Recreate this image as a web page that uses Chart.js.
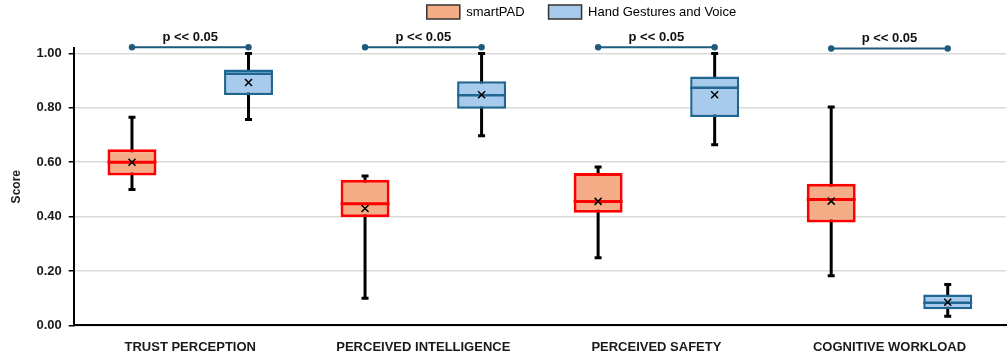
<!DOCTYPE html>
<html>
<head>
<meta charset="utf-8">
<script src="https://cdn.jsdelivr.net/npm/chart.js@4.4.1/dist/chart.umd.min.js"></script>
<style>
  html, body { margin: 0; padding: 0; background: #fff; }
  #wrap { width: 1008px; height: 360px; }
</style>
</head>
<body>
<div id="wrap"><canvas id="boxes"></canvas></div>
<script>
// categories and five-number summaries
const categories = ["TRUST PERCEPTION", "PERCEIVED INTELLIGENCE", "PERCEIVED SAFETY", "COGNITIVE WORKLOAD"];

const padMin    = [0.500, 0.100, 0.249, 0.183];
const padQ1     = [0.551, 0.398, 0.414, 0.378];
const padMedian = [0.600, 0.447, 0.456, 0.463];
const padQ3     = [0.648, 0.536, 0.560, 0.521];
const padMax    = [0.765, 0.549, 0.582, 0.803];
const padMean   = [0.600, 0.430, 0.456, 0.457];

const hgvMin    = [0.757, 0.697, 0.664, 0.034];
const hgvQ1     = [0.847, 0.797, 0.766, 0.059];
const hgvMedian = [0.925, 0.846, 0.874, 0.083];
const hgvQ3     = [0.941, 0.898, 0.915, 0.114];
const hgvMax    = [1.000, 1.000, 1.000, 0.150];
const hgvMean   = [0.893, 0.848, 0.848, 0.085];

const pLabels      = ["p << 0.05", "p << 0.05", "p << 0.05", "p << 0.05"];
const bracketLevel = [1.023, 1.023, 1.023, 1.018];

const stats = [
    { min: padMin, median: padMedian, max: padMax, mean: padMean },
    { min: hgvMin, median: hgvMedian, max: hgvMax, mean: hgvMean }
];

//whiskers go under the boxes, medians and means on top
const whiskers = {
    id: "whiskers",
    beforeDatasetsDraw(chart) {
        const ctx = chart.ctx;
        const y = chart.scales.y;
        ctx.save();
        ctx.strokeStyle = "#000";
        ctx.lineWidth = 3;
        chart.data.datasets.forEach((ds, d) => {
            chart.getDatasetMeta(d).data.forEach((bar, i) => {
                const lo = y.getPixelForValue(stats[d].min[i]);
                const hi = y.getPixelForValue(stats[d].max[i]);
                ctx.beginPath();
                ctx.moveTo(bar.x, lo);
                ctx.lineTo(bar.x, hi);
                ctx.moveTo(bar.x - 3.5, lo);
                ctx.lineTo(bar.x + 3.5, lo);
                ctx.moveTo(bar.x - 3.5, hi);
                ctx.lineTo(bar.x + 3.5, hi);
                ctx.stroke();
            });
        });
        ctx.restore();
    },
    afterDatasetsDraw(chart) {
        const ctx = chart.ctx;
        const y = chart.scales.y;
        ctx.save();
        chart.data.datasets.forEach((ds, d) => {
            chart.getDatasetMeta(d).data.forEach((bar, i) => {
                const half = bar.width / 2;
                const med = y.getPixelForValue(stats[d].median[i]);
                ctx.strokeStyle = ds.borderColor;
                ctx.lineWidth = ds.borderWidth;
                ctx.beginPath();
                ctx.moveTo(bar.x - half, med);
                ctx.lineTo(bar.x + half, med);
                ctx.stroke();

                const m = y.getPixelForValue(stats[d].mean[i]);
                ctx.strokeStyle = "#000";
                ctx.lineWidth = 1.5;
                ctx.beginPath();
                ctx.moveTo(bar.x - 3.5, m - 3.5);
                ctx.lineTo(bar.x + 3.5, m + 3.5);
                ctx.moveTo(bar.x + 3.5, m - 3.5);
                ctx.lineTo(bar.x - 3.5, m + 3.5);
                ctx.stroke();
            });
        });
        ctx.restore();
    }
};

const brackets = {
    id: "brackets",
    afterDraw(chart) {
        const ctx = chart.ctx;
        const y = chart.scales.y;
        const a = chart.getDatasetMeta(0).data;
        const b = chart.getDatasetMeta(1).data;
        ctx.save();
        categories.forEach((c, i) => {
            const py = y.getPixelForValue(bracketLevel[i]);
            ctx.strokeStyle = "#1d5a7c";
            ctx.fillStyle = "#1d5a7c";
            ctx.lineWidth = 2;
            ctx.beginPath();
            ctx.moveTo(a[i].x, py);
            ctx.lineTo(b[i].x, py);
            ctx.stroke();
            [a[i].x, b[i].x].forEach(px => {
                ctx.beginPath();
                ctx.arc(px, py, 3.2, 0, Math.PI * 2);
                ctx.fill();
            });
            ctx.fillStyle = "#111";
            ctx.font = "bold 13px 'Liberation Sans', Arial, sans-serif";
            ctx.textAlign = "center";
            ctx.textBaseline = "middle";
            ctx.fillText(pLabels[i], (a[i].x + b[i].x) / 2, py - 10);
        });
        ctx.restore();
    }
};

//the legend in the picture sits right of centre and close to the top
const legendShift = {
    id: "legendShift",
    afterLayout(chart) {
        chart.legend.left += 74;
        chart.legend.right += 74;
        chart.legend.top -= 19;
        chart.legend.bottom -= 19;
    }
};

Chart.defaults.font.family = "'Liberation Sans', Arial, sans-serif";
Chart.defaults.color = "#1a1a1a";

new Chart("boxes", {
    type: "bar",
    data: {
        labels: categories,
        datasets: [
            {
                label: "smartPAD",
                data: categories.map((c, i) => [padQ1[i], padQ3[i]]),
                backgroundColor: "#f4ad86",
                borderColor: "#ff0000",
                borderWidth: 3,
                borderSkipped: false
            },
            {
                label: "Hand Gestures and Voice",
                data: categories.map((c, i) => [hgvQ1[i], hgvQ3[i]]),
                backgroundColor: "#a8caed",
                borderColor: "#1f6690",
                borderWidth: 2.5,
                borderSkipped: false
            }
        ]
    },
    options: {
        responsive: true,
        maintainAspectRatio: false,
        animation: false,
        categoryPercentage: 1.0,
        barPercentage: 0.42,
        layout: { padding: { left: 9, right: 2, top: 0, bottom: -9 } },
        plugins: {
            tooltip: { enabled: false },
            legend: {
                position: "top",
                labels: {
                    boxWidth: 33,
                    boxHeight: 14,
                    padding: 24,
                    color: "#222",
                    font: { size: 13 },
                    generateLabels: chart => chart.data.datasets.map((ds, i) => ({
                        text: ds.label,
                        fillStyle: ds.backgroundColor,
                        strokeStyle: "#333",
                        lineWidth: 1.5,
                        hidden: false,
                        datasetIndex: i
                    }))
                }
            }
        },
        scales: {
            x: {
                grid: { display: false, drawTicks: false },
                border: { color: "#000", width: 2 },
                ticks: { padding: 14, font: { size: 13, weight: "bold" }, color: "#1a1a1a" }
            },
            y: {
                min: 0,
                max: 1.02,
                afterBuildTicks: axis => {
                    axis.ticks = [0, 0.2, 0.4, 0.6, 0.8, 1.0].map(v => ({ value: v }));
                },
                grid: { color: "#d9d9d9", lineWidth: 1.5, tickLength: 5, tickColor: "#000" },
                border: { color: "#000", width: 2 },
                ticks: {
                    padding: 7,
                    font: { size: 13, weight: "bold" },
                    color: "#1a1a1a",
                    callback: v => Number(v).toFixed(2)
                },
                title: { display: true, text: "Score", font: { size: 12, weight: "bold" }, color: "#1a1a1a", padding: { top: 0, bottom: 6 } }
            }
        }
    },
    plugins: [whiskers, brackets, legendShift]
});
</script>
</body>
</html>
